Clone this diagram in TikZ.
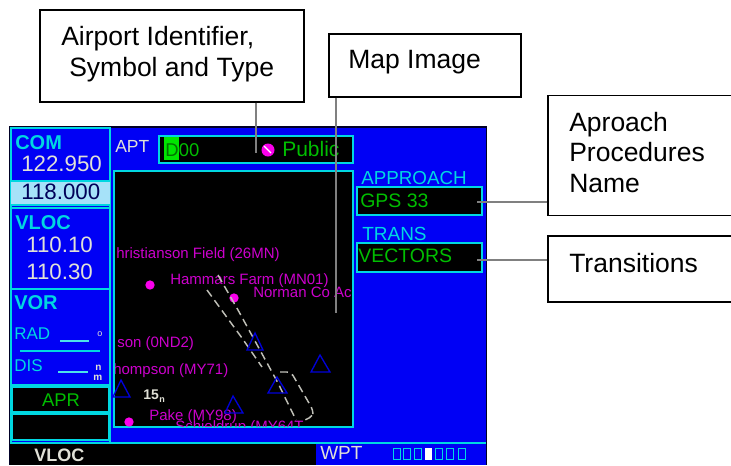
\documentclass[tikz,border=0pt]{standalone}
\usepackage{fontspec}
\setmainfont{Liberation Sans}
\definecolor{scrblue}{RGB}{0,0,245}
\definecolor{scrcyan}{RGB}{0,215,225}
\definecolor{scrgreen}{RGB}{0,190,0}
\definecolor{scrmag}{RGB}{205,0,205}
\definecolor{scrdot}{RGB}{250,0,235}
\definecolor{scrwhite}{RGB}{225,225,215}
\definecolor{leadgray}{RGB}{128,128,128}
\newcommand{\pxfont}[1]{\fontsize{\dimexpr#1pt*3/4\relax}{\dimexpr#1pt*9/10\relax}\selectfont}
\tikzset{
  x=0.75pt,y=-0.75pt,
  lab/.style={anchor=west,inner sep=0pt,text height=0.72em,text depth=0pt},
  bigshift/.style={yshift=-1.3pt},
  calltxt/.style={anchor=base west,inner sep=0pt,text=black,font=\pxfont{26.5}},
  callbox/.style={draw=black,line width=1.1pt,fill=white},
  leader/.style={draw=leadgray,line width=1.5pt},
  panel/.style={draw=scrcyan,line width=0.8pt},
  field/.style={draw=scrcyan,line width=1pt,fill=black},
  freq/.style={lab,bigshift,text=scrwhite,font=\pxfont{22.3}},
  head/.style={lab,bigshift,text=scrcyan,font=\bfseries\pxfont{20}},
  soft/.style={lab,text=scrcyan,font=\pxfont{17}},
  grn/.style={lab,bigshift,text=scrgreen,font=\pxfont{19.5}},
  mapl/.style={lab,text=scrmag,font=\pxfont{15}},
  rway/.style={draw=scrwhite!85!black,line width=1.1pt,dash pattern=on 6pt off 3.5pt},
  tri/.style={draw=blue!85!black,line width=1pt},
  dot/.style={circle,fill=scrdot,inner sep=0pt,minimum size=7pt},
  segbox/.style={draw=scrcyan,line width=1.1pt,minimum width=6.5*0.75pt,minimum height=11*0.75pt,inner sep=0pt},
}
\begin{document}
\begin{tikzpicture}
\clip (0,0) rectangle (731,465);
\fill[white] (0,0) rectangle (731,465);
% screen
\fill[black!85!blue] (9,126) rectangle (487,465);
\fill[scrblue] (10,128) rectangle (486,443);
\fill[black] (10,443) rectangle (316,465);
\fill[scrblue] (316,444) rectangle (486,465);
\draw[scrcyan,line width=1pt] (10,443) -- (486,443);
% left panel
\draw[panel] (11,128) rectangle (110,443);
\fill[cyan!35!white] (11,181) rectangle (110,205);
\draw[panel] (11,181) -- (110,181) (11,205) -- (110,205) (11,208) -- (110,208) (11,289) -- (110,289) (11,385) -- (110,385);
\node[head] (com) at (15,143) {COM};
\node[freq] (f1) at (21,165) {122.950};
\node[freq,text=black!65!blue] (f2) at (21,193) {118.000};
\node[head] (vloc) at (15,223) {VLOC};
\node[freq] (f3) at (26,246) {110.10};
\node[freq] (f4) at (26,273) {110.30};
\node[head] (vor) at (14,303) {VOR};
\node[soft] (rad) at (14,335) {RAD};
\draw[scrcyan!70!white,line width=1pt] (60,341) -- (89,341);
\node[lab,text=scrwhite,font=\pxfont{9}] (deg) at (97,332) {o};
\draw[scrcyan,line width=1pt] (20,351) -- (100,351);
\node[soft] (dis) at (14,367) {DIS};
\draw[scrcyan!70!white,line width=1pt] (58,372) -- (88,372);
\node[lab,text=scrwhite,font=\bfseries\pxfont{10}] (nm1) at (95,366) {n};
\node[lab,text=scrwhite,font=\bfseries\pxfont{10}] (nm2) at (93,376) {m};
\fill[black] (12,387) rectangle (109,412);
\draw[panel] (12,387) rectangle (109,412);
\node[lab,anchor=center,bigshift,text=scrgreen,font=\pxfont{18.4}] (apr) at (61,400) {APR};
\fill[black] (12,414) rectangle (109,440);
\draw[panel] (12,414) rectangle (109,440);
% APT
\node[lab,text=scrwhite,font=\pxfont{17.5}] (apt) at (115,148) {APT};
\node[field,minimum width=194*0.75pt,minimum height=27*0.75pt,inner sep=0pt] (aptbox) at (256,149.5) {};
\fill[green!90!black] (164,137) rectangle (179,160);
\node[grn,text=green!45!black,font=\pxfont{18.5}] (dd) at (165,150) {D};
\node[grn,font=\pxfont{18.5}] (d00) at (178.5,150) {00};
\node[dot,minimum size=13*0.75pt] (apsym) at (268,150) {};
\draw[white,line width=0.8pt] (264,146) -- (271,153);
\node[grn,font=\pxfont{21}] (public) at (282,150) {Public};
% map
\node[field,minimum width=239*0.75pt,minimum height=256*0.75pt,inner sep=0pt] (mapbox) at (233.5,299) {};
\begin{scope}
\clip (115,172) rectangle (352,426);
\node[mapl] (m1) at (116,254) {hristianson Field (26MN)};
\node[mapl] (m2) at (170,280) {Hammars Farm (MN01)};
\node[mapl] (m3) at (253,293) {Norman Co Ac};
\node[mapl] (m4) at (117,343) {son (0ND2)};
\node[mapl] (m5) at (113,370) {hompson (MY71)};
\node[mapl] (m6) at (149,416) {Pake (MY98)};
\node[mapl] (m7) at (175,427) {Schjeldrup (MY64T};
\node[dot] (d1) at (150,285) {};
\node[dot] (d2) at (234,298) {};
\node[dot] (d3) at (129,422) {};
\draw[rway] (207,290) -- (242,338) -- (262,367);
\draw[rway] (218,275) -- (238,310) -- (278,383) -- (296,420);
\draw[rway,rounded corners=3pt] (280,372) -- (291,372) -- (313,410) -- (313,416) -- (305,420);
\node[lab,text=scrwhite,font=\bfseries\pxfont{14}] (ft) at (143,395) {15};
\node[lab,text=scrwhite,font=\bfseries\pxfont{9}] (ftn) at (159,398) {n};
\end{scope}
\draw[tri] (255,333) -- (263,350) -- (247,350) -- cycle;
\draw[tri] (320,355) -- (330,372) -- (311,372) -- cycle;
\draw[tri] (277,377) -- (287,393) -- (268,393) -- cycle;
\draw[tri] (233,396) -- (243,413) -- (225,413) -- cycle;
\draw[tri] (121,380) -- (130,397) -- (113,397) -- cycle;
% right fields
\node[soft,bigshift,font=\pxfont{18.8}] (appr) at (361,178) {APPROACH};
\node[field,minimum width=125*0.75pt,minimum height=28*0.75pt,inner sep=0pt] (apprbox) at (419.5,201) {};
\node[grn] (gps) at (360,201) {GPS 33};
\node[soft,bigshift,font=\pxfont{19}] (trans) at (362,234) {TRANS};
\node[field,minimum width=125*0.75pt,minimum height=29*0.75pt,inner sep=0pt] (transbox) at (419.5,257.5) {};
\node[grn] (vec) at (358,256) {VECTORS};
% bottom bar
\node[lab,text=scrwhite,font=\bfseries\pxfont{18}] (vl) at (34,457) {VLOC};
\node[lab,bigshift,text=scrwhite,font=\pxfont{19}] (wpt) at (320,453) {WPT};
\foreach \i/\cx in {0/397,1/407,2/418,3/439,4/450,5/462}
  \node[segbox] (seg\i) at (\cx,454) {};
\node[fill=white,minimum width=7*0.75pt,minimum height=12*0.75pt,inner sep=0pt] (segw) at (428,454) {};
% callouts
\node[callbox,minimum width=264*0.75pt,minimum height=92*0.75pt,inner sep=0pt] (b1) at (172,56) {};
\node[calltxt] (b1a) at (61,45) {Airport Identifier,};
\node[calltxt] (b1b) at (69,76) {Symbol and Type};
\node[callbox,minimum width=192*0.75pt,minimum height=63*0.75pt,inner sep=0pt] (b2) at (425,65.5) {};
\node[calltxt] (b2a) at (348,68) {Map Image};
\node[callbox,minimum width=200*0.75pt,minimum height=120.5*0.75pt,inner sep=0pt] (b3) at (648,155.5) {};
\node[calltxt] (b3a) at (569,131) {Aproach};
\node[calltxt] (b3b) at (569,161) {Procedures};
\node[calltxt] (b3c) at (569,192) {Name};
\node[callbox,minimum width=200*0.75pt,minimum height=66*0.75pt,inner sep=0pt] (b4) at (648,269) {};
\node[calltxt] (b4a) at (569,272) {Transitions};
% leaders
\coordinate (endA) at (256,153);
\coordinate (endB) at (336,313);
\coordinate (endC) at (477,201.5);
\coordinate (endD) at (477,260);
\draw[leader] (endA |- b1.south) -- (endA);
\draw[leader] (endB |- b2.south) -- (endB);
\draw[leader] (endC -| b3.west) -- (endC);
\draw[leader] (endD -| b4.west) -- (endD);
\end{tikzpicture}
\end{document}
